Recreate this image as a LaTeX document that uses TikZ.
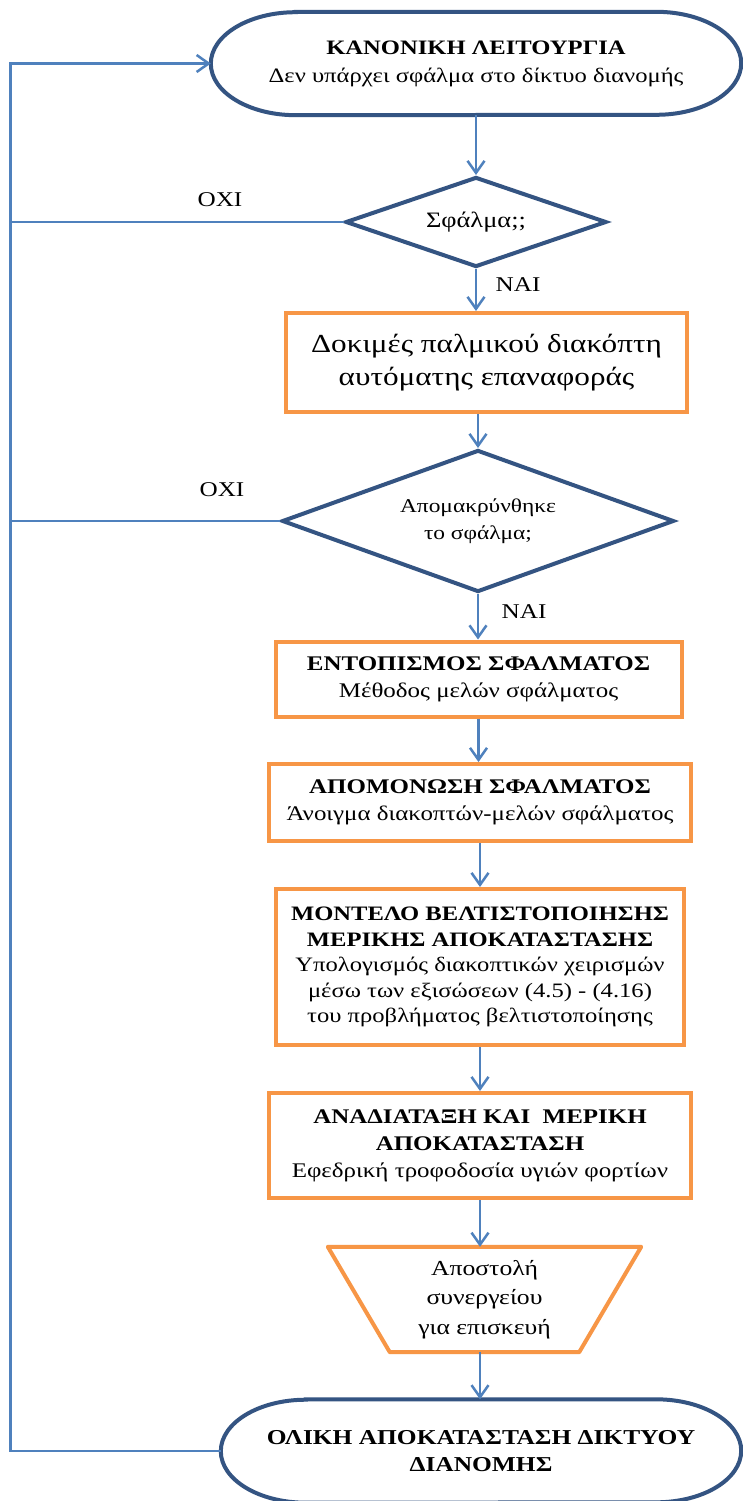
\documentclass[tikz,border=0pt]{standalone}
\usepackage{fontspec}
\setmainfont{Liberation Serif}[FakeStretch=1.2]
\usetikzlibrary{shapes.geometric,arrows.meta,calc}
\definecolor{flowblue}{RGB}{79,129,189}
\definecolor{navy}{RGB}{52,84,130}
\definecolor{flowor}{RGB}{247,150,70}
\newcommand{\fsz}[2]{\fontsize{#1}{#2}\selectfont}
\begin{document}
\begin{tikzpicture}[x=1pt,y=1pt,
  every node/.style={text=black},
  conn/.style={draw=flowblue,line width=2.5pt},
  arr/.style={conn,-{Straight Barb[length=12pt,width=17pt,line width=2.5pt]}},
  termtext/.style={inner sep=0pt,align=center,minimum height=103pt},
  termline/.style={draw=navy,line width=4pt},
  decision/.style={diamond,draw=navy,line width=4pt,inner sep=0pt,align=center},
  procbox/.style={rectangle,draw=flowor,line width=4pt,inner sep=0pt,align=center,font=\fsz{20.8}{27}},
  lbl/.style={inner sep=0pt,font=\fsz{21}{24}}]
\useasboundingbox (0,0) rectangle (742,-1501);
\fill[white] (0,0) rectangle (742,-1501);

% start terminal
\node[termtext,minimum width=530pt,font=\fsz{20.5}{28}] (start) at (476,-63.5)
  {\textbf{ΚΑΝΟΝΙΚΗ ΛΕΙΤΟΥΡΓΙΑ}\\Δεν υπάρχει σφάλμα στο δίκτυο διανομής};
\draw[termline] ([xshift=85pt]start.north west) -- ([xshift=-85pt]start.north east)
  arc[start angle=90,end angle=-90,x radius=85,y radius=51.5]
  -- ([xshift=85pt]start.south west)
  arc[start angle=270,end angle=90,x radius=85,y radius=51.5] -- cycle;

% first decision
\node[decision,shape aspect=2.9,minimum width=261pt,minimum height=90pt,font=\fsz{22}{24}] (d1) at (476,-222) {Σφάλμα;;};

% recloser tests
\node[procbox,minimum width=401pt,minimum height=99pt,font=\fsz{26}{33}] (tests) at (486.5,-362.5)
  {Δοκιμές παλμικού διακόπτη\\αυτόματης επαναφοράς};

% second decision
\node[decision,shape aspect=2.76,minimum width=392pt,minimum height=142pt,font=\fsz{19.5}{27}] (d2) at (478,-521)
  {Απομακρύνθηκε\\το σφάλμα;};

% process chain
\node[procbox,minimum width=406pt,minimum height=75pt] (locate) at (478.5,-679)
  {\textbf{ΕΝΤΟΠΙΣΜΟΣ ΣΦΑΛΜΑΤΟΣ}\\Μέθοδος μελών σφάλματος};
\node[procbox,minimum width=422pt,minimum height=77pt] (isolate) at (480,-802.5)
  {\textbf{ΑΠΟΜΟΝΩΣΗ ΣΦΑΛΜΑΤΟΣ}\\Άνοιγμα διακοπτών-μελών σφάλματος};
\node[procbox,minimum width=408pt,minimum height=156pt,font=\fsz{20.5}{25.5}] (model) at (480,-967)
  {\textbf{ΜΟΝΤΕΛΟ ΒΕΛΤΙΣΤΟΠΟΙΗΣΗΣ}\\\textbf{ΜΕΡΙΚΗΣ ΑΠΟΚΑΤΑΣΤΑΣΗΣ}\\Υπολογισμός διακοπτικών χειρισμών\\μέσω των εξισώσεων (4.5) - (4.16)\\του προβλήματος βελτιστοποίησης};
\node[procbox,minimum width=422pt,minimum height=105pt] (restore) at (480,-1145.5)
  {\textbf{ΑΝΑΔΙΑΤΑΞΗ ΚΑΙ\ \ ΜΕΡΙΚΗ}\\\textbf{ΑΠΟΚΑΤΑΣΤΑΣΗ}\\Εφεδρική τροφοδοσία υγιών φορτίων};

% crew dispatch (inverted trapezoid)
\node[inner sep=0pt,align=center,minimum width=313pt,minimum height=105pt,font=\fsz{21.4}{29.5}] (crew) at (484.5,-1299.5)
  {Αποστολή\\συνεργείου\\για επισκευή};
\draw[draw=flowor,line width=4pt,line join=round] (crew.north west) -- (crew.north east)
  -- ([xshift=-62pt]crew.south east) -- ([xshift=62pt]crew.south west) -- cycle;

% end terminal
\node[termtext,minimum width=520pt,font=\fsz{21.2}{27}] (finish) at (481,-1451)
  {\textbf{ΟΛΙΚΗ ΑΠΟΚΑΤΑΣΤΑΣΗ ΔΙΚΤΥΟΥ}\\\textbf{ΔΙΑΝΟΜΗΣ}};
\draw[termline] ([xshift=85pt]finish.north west) -- ([xshift=-85pt]finish.north east)
  arc[start angle=90,end angle=-90,x radius=85,y radius=51.5]
  -- ([xshift=85pt]finish.south west)
  arc[start angle=270,end angle=90,x radius=85,y radius=51.5] -- cycle;

% main flow
\draw[arr] (start.south) -- (d1.north);
\draw[arr] (d1.south) -- (d1.south |- tests.north);
\draw[arr] (d2.north |- tests.south) -- (d2.north);
\draw[arr] (d2.south) -- (d2.south |- locate.north);
\draw[arr] (locate.south) -- (locate.south |- isolate.north);
\draw[arr] (isolate.south) -- (isolate.south |- model.north);
\draw[arr] (model.south) -- (model.south |- restore.north);
\draw[arr] (restore.south) -- (restore.south |- crew.north);
\draw[arr] (restore.south |- crew.south) -- (restore.south |- finish.north);

% return rail on the left
\coordinate (railb) at (10.5,-1451);
\coordinate (railt) at (10.5,-63.5);
\draw[arr] (finish.west) -- (railb) -- (railt) -- (start.west);
\draw[conn] (d1.west) -- (d1.west -| railt);
\draw[conn] (d2.west) -- (d2.west -| railt);

% branch labels
\node[lbl] (no1) at (220,-200) {ΟΧΙ};
\node[lbl] (yes1) at (518,-285) {ΝΑΙ};
\node[lbl] (no2) at (222,-490) {ΟΧΙ};
\node[lbl] (yes2) at (524,-612) {ΝΑΙ};
\end{tikzpicture}
\end{document}
